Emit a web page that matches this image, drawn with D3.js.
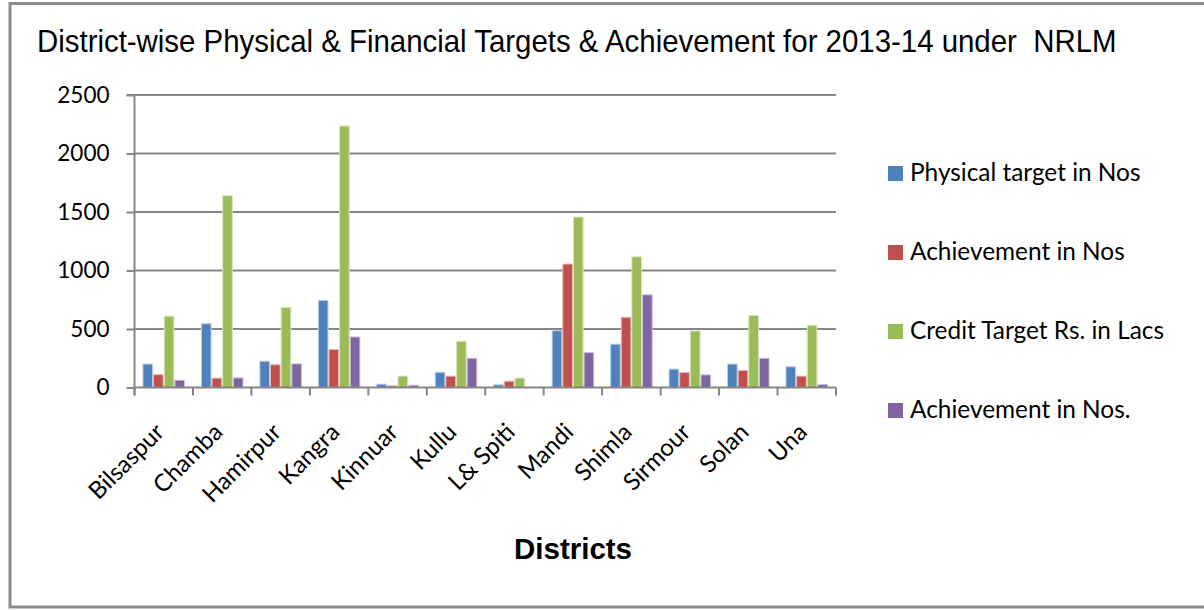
<!DOCTYPE html>
<html><head><meta charset="utf-8">
<script src="https://cdn.jsdelivr.net/npm/d3@7"></script>
<style>body{margin:0;background:#fff}svg{display:block}</style>
</head><body>
<svg id="c" width="1204" height="610"></svg>
<script>
const districts = ["Bilsaspur","Chamba","Hamirpur","Kangra","Kinnuar","Kullu","L& Spiti","Mandi","Shimla","Sirmour","Solan","Una"];
const seriesNames = ["Physical target in Nos","Achievement in Nos","Credit Target Rs. in Lacs","Achievement in Nos."];
const physicalTarget = [200,545,225,745,28,130,23,485,370,157,200,177];
const achievementNos = [110,80,195,325,14,97,54,1055,600,128,145,97];
const creditTarget = [610,1640,685,2235,97,395,80,1457,1117,483,616,531];
const achievementNos2 = [62,82,202,432,20,250,0,298,792,108,250,26];
const yTicks = [0,500,1000,1500,2000,2500];
const colors = ["#4F81BD","#C0504D","#9BBB59","#8064A2"];
const strokes = ["#b9cde5","#e6b9b8","#d7e4bd","#ccc1da"];

(function(){
const series = [physicalTarget, achievementNos, creditTarget, achievementNos2];
const svg = d3.select("#c");

// outer border
svg.append("rect").attr("x",10).attr("y",3.5).attr("width",1200).attr("height",603.5)
  .attr("fill","none").attr("stroke","#8c8c8c").attr("stroke-width",3);

const pLeft = 134.5, pRight = 836, pTop = 95, pBottom = 387.5;
const x0 = d3.scaleBand().domain(districts).range([pLeft,pRight]).paddingInner(0.272).paddingOuter(0.136);
const x1 = d3.scaleBand().domain(d3.range(4)).range([0,x0.bandwidth()]);
const y = d3.scaleLinear().domain([0,2500]).range([pBottom,pTop]);

// gridlines
svg.append("g").selectAll("line").data(yTicks.slice(1)).join("line")
  .attr("x1",pLeft).attr("x2",pRight).attr("y1",d=>y(d)).attr("y2",d=>y(d))
  .attr("stroke","#868686").attr("stroke-width",2);

// y axis
const yAxis = d3.axisLeft(y).tickValues(yTicks).tickSize(8).tickPadding(17).tickFormat(d3.format("d"));
const gy = svg.append("g").attr("transform",`translate(${pLeft},0)`).call(yAxis);
gy.select(".domain").attr("stroke","#868686").attr("stroke-width",2).attr("d",`M-8,${pTop}H0V${pBottom+8}`);
gy.selectAll(".tick line").attr("stroke","#868686").attr("stroke-width",2);
gy.selectAll(".tick text").attr("font-family","Lato, 'Open Sans', sans-serif").attr("font-size","22.5px").attr("fill","#000");

// bars
const g = svg.append("g");
districts.forEach((dname,i)=>{
  series.forEach((s,j)=>{
    g.append("rect")
      .attr("x",x0(dname)+x1(j)+0.5)
      .attr("y",y(s[i]))
      .attr("width",x1.bandwidth()-1)
      .attr("height",pBottom-y(s[i]))
      .attr("fill",colors[j])
      .attr("stroke",strokes[j]).attr("stroke-width",s[i]>0?1:0);
  });
});

// x axis
const xTickScale = d3.scaleBand().domain(districts).range([pLeft,pRight]);
const xAxis = d3.axisBottom(xTickScale).tickSize(0).tickPadding(0);
const gx = svg.append("g").attr("transform",`translate(0,${pBottom})`).call(xAxis);
gx.select(".domain").attr("stroke","#868686").attr("stroke-width",2).attr("d",`M${pLeft},0H${pRight}`);
gx.selectAll(".tick line").remove();
svg.append("g").selectAll("line").data(d3.range(districts.length+1)).join("line")
  .attr("x1",d=>pLeft+d*xTickScale.step()).attr("x2",d=>pLeft+d*xTickScale.step())
  .attr("y1",pBottom).attr("y2",pBottom+8).attr("stroke","#868686").attr("stroke-width",2);
gx.selectAll(".tick text")
  .attr("font-family","Lato, 'Open Sans', sans-serif").attr("font-size","24px").attr("fill","#000")
  .attr("text-anchor","end").attr("dy","0")
  .attr("transform","translate(2,46) rotate(-45)");

// title (condensed horizontally to fit the reference width)
const title = svg.append("text").attr("x",0).attr("y",0)
  .text("District-wise Physical & Financial Targets & Achievement for 2013-14 under  NRLM")
  .attr("font-family","'Liberation Sans', Arial, sans-serif").attr("font-size","32px").attr("fill","#000")
  .style("white-space","pre");
const tw = title.node().getComputedTextLength();
title.attr("transform",`translate(37,52) scale(${1080/tw},1)`);

// x axis title
svg.append("text").attr("x",573).attr("y",559).attr("text-anchor","middle").text("Districts")
  .attr("font-family","'Liberation Sans', Arial, sans-serif").attr("font-size","29.5px").attr("font-weight","bold").attr("fill","#000");

// legend
const lg = svg.append("g").selectAll("g").data(seriesNames).join("g")
  .attr("transform",(d,i)=>`translate(888,${166+i*79})`);
lg.append("rect").attr("width",15).attr("height",15).attr("fill",(d,i)=>colors[i]);
lg.append("text").attr("x",22).attr("y",15).text(d=>d)
  .attr("font-family","Lato, 'Open Sans', sans-serif").attr("font-size","24.4px").attr("fill","#000");
})();
</script>
</body></html>
